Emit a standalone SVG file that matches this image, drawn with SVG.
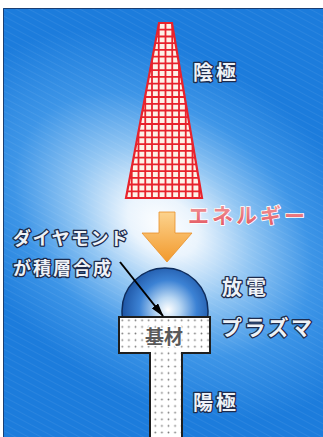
<svg xmlns="http://www.w3.org/2000/svg" width="323" height="437" viewBox="0 0 323 437">
  <defs>
    <style>
      .lbl { font-family: "Noto Sans CJK JP", "Noto Sans", sans-serif; font-weight: 700; fill: #eef2f7; stroke: #1d2b4c; stroke-width: 2.6; paint-order: stroke; stroke-linejoin: round; }
      .energy { font-family: "Noto Sans CJK JP", "Noto Sans", sans-serif; font-weight: 700; fill: url(#pinkText); stroke: #ffffff; stroke-width: 1.6; paint-order: stroke; stroke-linejoin: round; }
      .grid { stroke: #e8222c; stroke-width: 1.8; fill: none; }
    </style>
    <radialGradient id="bgGlow" gradientUnits="userSpaceOnUse" cx="163" cy="225" r="210" gradientTransform="translate(163 225) rotate(35) scale(1.15 0.8) translate(-163 -225)">
      <stop offset="0" stop-color="#ffffff"/>
      <stop offset="0.16" stop-color="#eaf4fd"/>
      <stop offset="0.4" stop-color="#92c6f3"/>
      <stop offset="0.68" stop-color="#3d95e7"/>
      <stop offset="1" stop-color="#1c7cdc"/>
    </radialGradient>
    <pattern id="streaks" width="6" height="6" patternUnits="userSpaceOnUse" patternTransform="rotate(28)">
      <line x1="0" y1="0" x2="6" y2="0" stroke="#ffffff" stroke-width="1" opacity="0.12"/>
    </pattern>
    <linearGradient id="arrowFill" x1="0" y1="0" x2="0" y2="1">
      <stop offset="0" stop-color="#fcd38e"/>
      <stop offset="1" stop-color="#f2992c"/>
    </linearGradient>
    <radialGradient id="domeFill" gradientUnits="userSpaceOnUse" cx="168" cy="308" r="48" fx="168" fy="310">
      <stop offset="0" stop-color="#ffffff"/>
      <stop offset="0.25" stop-color="#b9d7f3"/>
      <stop offset="0.6" stop-color="#3c82d4"/>
      <stop offset="1" stop-color="#1a4f9e"/>
    </radialGradient>
    <linearGradient id="pinkText" x1="0" y1="0" x2="0" y2="1">
      <stop offset="0" stop-color="#f4a6a6"/>
      <stop offset="1" stop-color="#e2505c"/>
    </linearGradient>
    <pattern id="dots" x="119" y="317" width="6.6" height="6.6" patternUnits="userSpaceOnUse">
      <rect width="6.6" height="6.6" fill="#ffffff"/>
      <circle cx="3.3" cy="3.3" r="0.9" fill="#7d7d7d"/>
    </pattern>
    <clipPath id="trapClip">
      <polygon points="159,23 172,23 202,198 126,198"/>
    </clipPath>
    <clipPath id="domeClip">
      <rect x="100" y="250" width="130" height="67"/>
    </clipPath>
    <marker id="blackHead" viewBox="0 0 14 8" refX="13" refY="4" markerWidth="14" markerHeight="8" markerUnits="userSpaceOnUse" orient="auto">
      <path d="M0 0 L14 4 L0 8 Z" fill="#000000"/>
    </marker>
  </defs>

  <!-- panel background -->
  <rect x="0" y="0" width="323" height="437" fill="#ffffff"/>
  <rect x="3" y="8" width="320" height="429" fill="url(#bgGlow)"/>
  <rect x="3" y="8" width="320" height="429" fill="url(#streaks)"/>
  <path d="M3.5 437 V8.5 H323" fill="none" stroke="#1a3f74" stroke-width="1"/>

  <!-- cathode: meshed trapezoid -->
  <g id="cathode">
    <polygon points="159,23 172,23 202,198 126,198" fill="#fdf2e8"/>
    <g clip-path="url(#trapClip)">
      <path class="grid" d="M125 20V200M131.75 20V200M138.5 20V200M145.25 20V200M152 20V200M158.75 20V200M165.5 20V200M172.25 20V200M179 20V200M185.75 20V200M192.5 20V200M199.25 20V200M206 20V200"/>
      <path class="grid" d="M120 29.7H210M120 36.5H210M120 43.2H210M120 49.9H210M120 56.7H210M120 63.4H210M120 70.1H210M120 76.8H210M120 83.6H210M120 90.3H210M120 97H210M120 103.8H210M120 110.5H210M120 117.2H210M120 124H210M120 130.7H210M120 137.4H210M120 144.1H210M120 150.9H210M120 157.6H210M120 164.3H210M120 171.1H210M120 177.8H210M120 184.5H210M120 191.3H210"/>
    </g>
    <polygon points="159,23 172,23 202,198 126,198" fill="none" stroke="#e8222c" stroke-width="2.2" stroke-linejoin="miter"/>
    <text class="lbl" x="193" y="79.5" font-size="20" letter-spacing="3">陰極</text>
  </g>

  <!-- energy flow -->
  <g id="energy">
    <polygon points="159,212 175,212 175,233 192,233 167,262 142,233 159,233" fill="url(#arrowFill)" stroke="#e8902a" stroke-width="0.8"/>
    <text class="energy" x="188" y="223" font-size="21" letter-spacing="3">エネルギー</text>
  </g>

  <!-- discharge plasma dome -->
  <g id="plasma">
    <circle cx="165" cy="311" r="43" fill="url(#domeFill)" stroke="#0e2c5c" stroke-width="1.5" clip-path="url(#domeClip)"/>
    <text class="lbl" x="222" y="295" font-size="20" letter-spacing="4">放電</text>
    <text class="lbl" x="221" y="334.5" font-size="21" letter-spacing="2.5">プラズマ</text>
  </g>

  <!-- anode with substrate -->
  <g id="anode">
    <path d="M119 317 H210 V353 H182 V440 H150 V353 H119 Z" fill="url(#dots)" stroke="#1e1e1e" stroke-width="2"/>
    <text x="164" y="344" text-anchor="middle" font-family="Noto Sans CJK JP, Noto Sans, sans-serif" font-weight="700" font-size="19" fill="#5a5a5a" stroke="#ffffff" stroke-width="2" paint-order="stroke">基材</text>
    <text class="lbl" x="193" y="410" font-size="20" letter-spacing="3">陽極</text>
  </g>

  <!-- deposition label -->
  <g id="diamond-label">
    <text class="lbl" x="13" y="245" font-size="18" letter-spacing="1.5">ダイヤモンド</text>
    <text class="lbl" x="13" y="275" font-size="18" letter-spacing="2">が積層合成</text>
  </g>

  <g id="connectors">
    <line x1="120" y1="262" x2="163" y2="316" stroke="#000000" stroke-width="2" marker-end="url(#blackHead)"/>
  </g>
</svg>
